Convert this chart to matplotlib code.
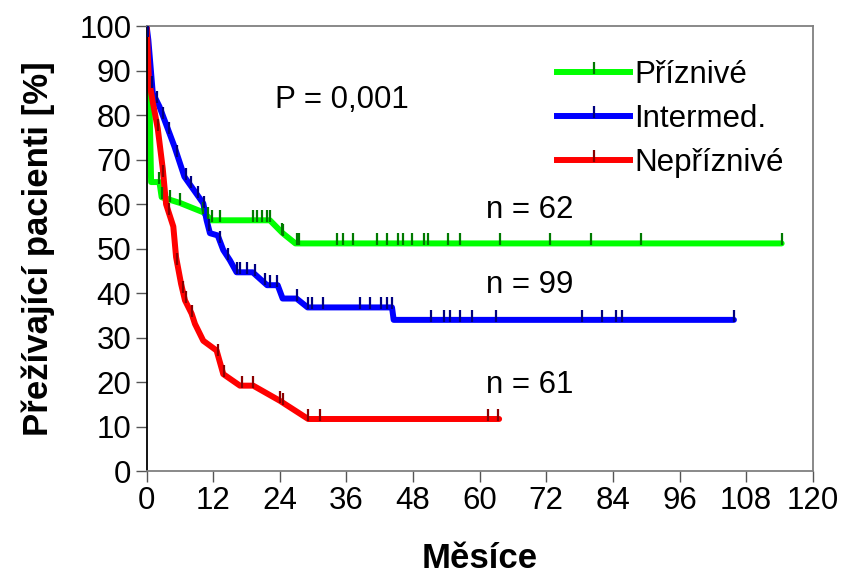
import matplotlib
matplotlib.use('Agg')
import matplotlib.pyplot as plt
import numpy as np
from matplotlib.lines import Line2D

plt.rcParams['font.family'] = ['Liberation Sans', 'DejaVu Sans']

# krivky preziti (cas v mesicich, % prezivajicich)
green_t = [0, 0.4, 0.8, 2.3, 2.7, 6.0, 10.2, 11.7, 22.2, 24.5, 26.8, 114.4]
green_s = [97, 90, 65, 65, 61.6, 60.3, 58.2, 56.4, 56.4, 53.5, 51.2, 51.2]
green_cens = [2.3, 2.7, 4.2, 6.0, 10.1, 11.0, 11.7, 13.2, 19.1, 19.9, 20.8, 21.7, 22.2,
              24.4, 24.6, 27.1, 27.5, 34.3, 35.4, 37.2, 41.5, 43.3, 45.3, 46.2, 47.8,
              50.0, 50.7, 54.2, 56.5, 63.7, 72.7, 80.1, 89.0, 114.4]

blue_t = [0, 0.3, 1.1, 2.3, 5.0, 6.8, 10.2, 10.8, 11.4, 12.8, 13.8, 15.0, 16.2, 19.1,
          21.7, 23.6, 24.5, 27.0, 29.0, 44.2, 44.5, 105.8]
blue_s = [100, 97, 85, 82, 73, 66.2, 60.2, 56.4, 53.5, 53, 49.7, 47.4, 44.7, 44.7,
          41.8, 41.8, 38.8, 38.8, 36.8, 36.8, 34, 34]
blue_cens = [0.2, 1.0, 1.8, 3.0, 4.0, 5.5, 7.0, 8.0, 9.2, 10.3, 11.2, 13.2, 14.7, 16.2,
             16.8, 18.0, 19.5, 21.3, 22.2, 23.4, 27.0, 29.1, 29.8, 31.8, 38.4, 40.2,
             42.3, 43.3, 44.2, 51.3, 53.6, 54.7, 56.5, 58.7, 63.0, 78.4, 82.0, 84.5,
             85.6, 105.8]

red_t = [0, 0.4, 1.1, 2.0, 2.9, 3.5, 4.8, 5.3, 6.2, 6.9, 8.1, 8.7, 10.2, 12.6, 13.8,
         16.8, 19.2, 24.0, 29.1, 63.5]
red_s = [100, 88, 83, 77, 68, 60, 55, 48.1, 42.1, 38.4, 35.4, 33.1, 29.3, 27.1, 21.8,
         19.2, 19.2, 15.8, 11.7, 11.7]
red_cens = [2.0, 3.0, 4.0, 5.5, 6.5, 7.0, 8.2, 12.8, 14.0, 17.1, 19.1, 24.0, 24.5,
            29.0, 31.2, 61.5, 63.3]

labels = ['Příznivé', 'Intermed.', 'Nepříznivé']
n_labels = ['n = 62', 'n = 99', 'n = 61']
n_pos = [58.7, 41.8, 19.3]
p_text = 'P = 0,001'

line_colors = ['#00ff00', '#0000ff', '#ff0000']
tick_colors = ['#007a00', '#000080', '#8b0000']

# svisla carka pro cenzurovana data (od cary nahoru)
cens_marker = [(0, -0.2), (0, 1)]

fig = plt.figure(figsize=(8.41, 5.77), dpi=100)
ax = fig.add_axes([0.1744, 0.1837, 0.7920, 0.7704])

curves = [(green_t, green_s, green_cens), (blue_t, blue_s, blue_cens), (red_t, red_s, red_cens)]
# poradi kresleni: zelena, cervena, modra
for i in [0, 2, 1]:
    t, s, c = curves[i]
    ax.plot(t, s, color=line_colors[i], lw=4.3, solid_joinstyle='round',
            solid_capstyle='round', zorder=2 + i * 0.1)
    ax.plot(c, np.interp(c, t, s), ls='none', marker=cens_marker, ms=15,
            mew=1.6, mec=tick_colors[i], mfc='none', zorder=3)

fs = 22.5
ax.text(23.2, 83.4, p_text, fontsize=fs, va='center', ha='left')
for lab, y in zip(n_labels, n_pos):
    ax.text(61.1, y, lab, fontsize=fs, va='center', ha='left')

ax.set_xlim(0, 120)
ax.set_ylim(0, 100)
ax.set_xticks(np.arange(0, 121, 12))
ax.set_yticks(np.arange(0, 101, 10))
ax.tick_params(direction='out', length=8, width=1, color='#555555', labelsize=fs, pad=3)
for side in ['top', 'right', 'bottom']:
    ax.spines[side].set_color('#808080')
    ax.spines[side].set_linewidth(1.3)
ax.spines['left'].set_color('black')
ax.spines['left'].set_linewidth(1.3)

ax.set_xlabel('Měsíce', fontsize=25, fontweight='bold')
ax.set_ylabel('Přežívající pacienti [%]', fontsize=25, fontweight='bold')
ax.xaxis.set_label_coords(0.5, -0.16)
ax.yaxis.set_label_coords(-0.138, 0.5)

handles = []
for i in range(3):
    handles.append(Line2D([0], [0], color=line_colors[i], lw=4.3, marker=cens_marker,
                          ms=15, mew=1.6, mec=tick_colors[i]))
ax.legend(handles, labels, loc='upper left', bbox_to_anchor=(0.616, 0.925),
          frameon=False, fontsize=fs, handlelength=2.35, handletextpad=0.12,
          labelspacing=0.45, borderpad=0, borderaxespad=0, numpoints=1)

plt.savefig('out.png', dpi=100)
